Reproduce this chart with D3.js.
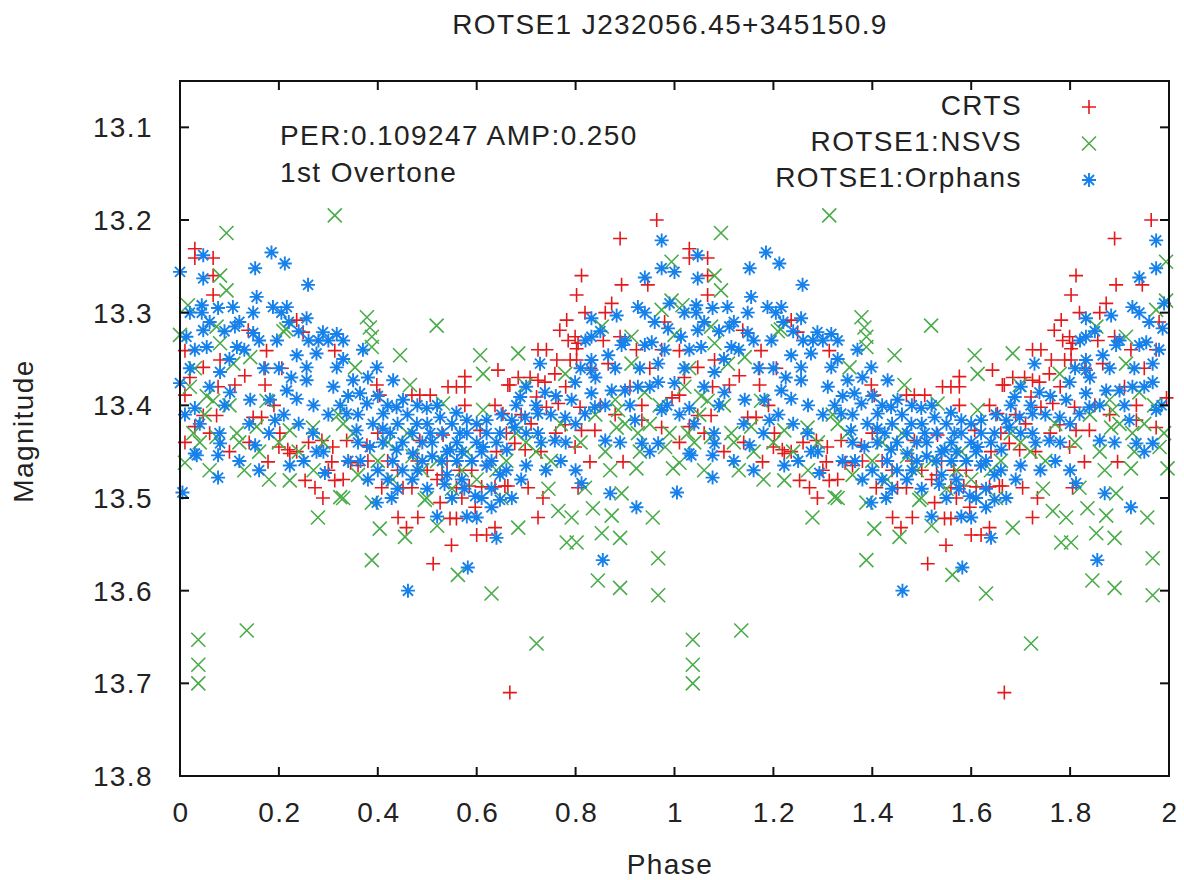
<!DOCTYPE html>
<html>
<head>
<meta charset="utf-8">
<script src="https://cdn.jsdelivr.net/npm/d3@7"></script>
<style>
body{margin:0;background:#fff}
text{font-family:"Liberation Sans",Arial,sans-serif;font-size:28px;fill:#222;letter-spacing:1.4px}
</style>
</head>
<body>
<script>
var title="ROTSE1 J232056.45+345150.9"
var note=["PER:0.109247 AMP:0.250","1st Overtone"]
var names=["CRTS","ROTSE1:NSVS","ROTSE1:Orphans"]
var xTicks=[0,0.2,0.4,0.6,0.8,1,1.2,1.4,1.6,1.8,2]
var yTicks=[13.1,13.2,13.3,13.4,13.5,13.6,13.7,13.8]
// [phase, magnitude] for one cycle, plotted again at phase+1
var crts=[[0.030,13.231],[0.030,13.241],[0.067,13.241],[0.067,13.26],[0.067,13.281],[0.236,13.308],[0.249,13.321],[0.138,13.319],
[0.010,13.341],[0.175,13.341],[0.313,13.341],[0.081,13.351],[0.047,13.359],[0.172,13.36],[0.206,13.36],[0.131,13.368],[0.010,13.389],
[0.077,13.38],[0.111,13.378],[0.172,13.378],[0.047,13.411],[0.074,13.411],[0.148,13.413],[0.165,13.413],[0.030,13.423],[0.010,13.44],
[0.202,13.43],[0.218,13.448],[0.287,13.438],[0.309,13.445],[0.222,13.452],[0.236,13.45],[0.200,13.445],
[0.178,13.461],[0.253,13.481],[0.273,13.489],[0.289,13.50],[0.307,13.461],[0.313,13.481],
[0.643,13.362],[0.663,13.378],[0.576,13.369],[0.542,13.38],[0.559,13.38],[0.576,13.38],[0.398,13.378],[0.404,13.389],[0.469,13.389],
[0.485,13.389],[0.506,13.389],[0.576,13.40],[0.637,13.40],[0.653,13.409],[0.485,13.438],[0.337,13.438],[0.378,13.443],[0.532,13.432],[0.607,13.427],
[0.408,13.489],[0.451,13.489],[0.469,13.489],[0.441,13.521],[0.481,13.521],[0.458,13.532],[0.526,13.505],[0.546,13.522],[0.559,13.522],
[0.549,13.551],[0.512,13.571],[0.667,13.71],[0.559,13.489],[0.597,13.51],[0.637,13.532],[0.60,13.54],[0.62,13.54],[0.585,13.487],
[0.61,13.488],[0.637,13.488],[0.657,13.487],[0.345,13.462],[0.36,13.465],[0.50,13.47],[0.53,13.475],[0.565,13.47],[0.62,13.465],
[0.964,13.20],[0.89,13.22],[0.812,13.26],[0.893,13.27],[0.946,13.27],[0.802,13.281],[0.873,13.29],[0.819,13.30],[0.86,13.30],
[0.782,13.308],[0.768,13.319],[0.799,13.326],[0.785,13.33],[0.805,13.333],[0.856,13.33],[0.89,13.326],[0.724,13.34],[0.741,13.34],
[0.802,13.339],[0.923,13.34],[0.974,13.34],[0.762,13.351],[0.789,13.351],[0.802,13.351],[0.866,13.355],[0.684,13.37],[0.708,13.37],
[0.724,13.373],[0.738,13.375],[0.758,13.366],[0.667,13.378],[0.721,13.391],[0.741,13.402],[0.765,13.398],[0.809,13.402],[0.934,13.40],
[0.995,13.392],[0.779,13.421],[0.812,13.427],[0.839,13.427],[0.934,13.416],[0.974,13.424],[0.677,13.441],[0.698,13.448],[0.799,13.445],
[0.829,13.461],[0.896,13.461],[0.734,13.50],[0.724,13.521],[0.805,13.489],[0.663,13.487],[0.704,13.489],
[0.42,13.46],[0.44,13.47],[0.48,13.46],[0.52,13.48],[0.54,13.46],[0.57,13.50],[0.59,13.47],[0.64,13.45],[0.66,13.43],[0.69,13.41],
[0.71,13.42],[0.73,13.45],[0.76,13.43],[0.78,13.38],[0.83,13.36],[0.85,13.40],[0.88,13.41],[0.91,13.38],[0.95,13.36],[0.98,13.31],
[0.02,13.37],[0.06,13.43],[0.10,13.45],[0.14,13.44],[0.19,13.40],[0.26,13.44],[0.30,13.47],[0.33,13.48],[0.38,13.46],[0.40,13.43]]
var nsvs=[[0.313,13.195],[0.094,13.214],[0.081,13.26],[0.094,13.276],[0.016,13.292],[0.0,13.324],[0.074,13.315],[0.209,13.32],
[0.081,13.333],[0.108,13.355],[0.054,13.39],[0.027,13.43],[0.074,13.434],[0.115,13.43],[0.155,13.423],[0.269,13.424],[0.215,13.318],
[0.02,13.38],[0.067,13.395],[0.142,13.348],[0.175,13.395],[0.12,13.44],[0.04,13.44],[0.222,13.427],
[0.010,13.462],[0.222,13.481],[0.324,13.499],[0.279,13.521],[0.135,13.643],[0.037,13.653],[0.037,13.68],[0.037,13.70],
[0.378,13.305],[0.384,13.316],[0.519,13.314],[0.388,13.326],[0.388,13.337],[0.445,13.346],[0.607,13.346],[0.613,13.366],[0.354,13.359],
[0.465,13.378],[0.532,13.398],[0.613,13.405],
[0.388,13.505],[0.33,13.50],[0.404,13.533],[0.455,13.542],[0.388,13.567],[0.495,13.502],[0.562,13.583],[0.63,13.603],[0.499,13.50],
[0.994,13.245],[0.974,13.297],[0.994,13.287],[0.853,13.315],[0.913,13.326],[0.684,13.344],[0.913,13.355],[0.779,13.366],[0.698,13.378],
[0.94,13.386],[0.88,13.394],[0.886,13.405],[0.883,13.424],[0.926,13.43],[0.981,13.445],
[0.923,13.468],[0.997,13.468],[0.893,13.495],[0.835,13.511],[0.956,13.521],[0.873,13.519],[0.853,13.538],[0.89,13.543],[0.782,13.548],
[0.802,13.548],[0.792,13.521],[0.765,13.514],[0.684,13.532],[0.967,13.565],[0.845,13.589],[0.89,13.597],[0.967,13.605],[0.721,13.657],[0.819,13.489],
[0.42,13.44],[0.47,13.455],[0.52,13.46],[0.58,13.45],[0.64,13.47],[0.36,13.475],[0.33,13.42],[0.27,13.47],[0.18,13.48],[0.13,13.47],
[0.06,13.47],[0.70,13.44],[0.75,13.46],[0.86,13.45],[0.95,13.42],
[0.03,13.36],[0.05,13.41],[0.10,13.40],[0.16,13.45],[0.20,13.44],[0.24,13.45],[0.29,13.44],[0.32,13.41],[0.35,13.43],[0.40,13.46],
[0.43,13.48],[0.46,13.43],[0.49,13.47],[0.55,13.49],[0.57,13.47],[0.60,13.48],[0.66,13.46],[0.68,13.43],[0.72,13.45],[0.77,13.42],
[0.81,13.44],[0.84,13.41],[0.87,13.47],[0.90,13.42],[0.93,13.45],[0.97,13.40],[0.99,13.43],[0.745,13.49],[0.65,13.50],[0.52,13.53]]
var orphans=[[0.047,13.238],[0.047,13.263],[0.0,13.256],[0.152,13.252],[0.185,13.235],[0.212,13.247],[0.259,13.27],[0.155,13.283],
[0.044,13.292],[0.044,13.30],[0.077,13.295],[0.107,13.294],[0.148,13.30],[0.188,13.294],[0.216,13.294],[0.256,13.306],[0.111,13.315],
[0.047,13.319],[0.013,13.326],[0.148,13.322],[0.289,13.321],[0.317,13.323],[0.054,13.337],[0.115,13.337],[0.196,13.33],[0.236,13.346],
[0.276,13.344],[0.256,13.359],[0.256,13.373],[0.081,13.364],[0.0,13.376],[0.317,13.359],[0.216,13.384],[0.101,13.386],[0.142,13.394],
[0.182,13.394],[0.236,13.393],[0.030,13.403],[0.324,13.40],[0.192,13.416],[0.269,13.43],[0.081,13.441],[0.152,13.443],[0.030,13.452],[0.276,13.45],
[0.034,13.454],[0.077,13.454],[0.077,13.478],[0.005,13.494],[0.222,13.465],[0.293,13.473],
[0.330,13.33],[0.37,13.34],[0.398,13.359],[0.35,13.373],[0.431,13.373],[0.364,13.387],[0.378,13.398],[0.438,13.402],[0.451,13.394],
[0.499,13.403],[0.526,13.413],[0.559,13.408],[0.58,13.416],[0.62,13.416],[0.337,13.409],[0.411,13.409],[0.479,13.42],[0.357,13.427],
[0.425,13.43],[0.506,13.43],[0.566,13.43],[0.647,13.43],[0.384,13.445],[0.438,13.448],[0.471,13.452],[0.546,13.448],[0.613,13.445],[0.661,13.448],
[0.398,13.505],[0.428,13.50],[0.582,13.575],[0.461,13.60],[0.60,13.521],[0.64,13.543],[0.597,13.498],[0.647,13.502],
[0.43,13.46],[0.45,13.47],[0.53,13.46],[0.54,13.475],[0.535,13.485],[0.62,13.465],[0.647,13.475],
[0.40,13.47],[0.47,13.48],[0.51,13.455],[0.56,13.46],[0.575,13.49],[0.63,13.49],[0.365,13.46],[0.41,13.425],[0.49,13.44],[0.60,13.44],
[0.974,13.222],[0.974,13.252],[0.94,13.262],[0.926,13.294],[0.94,13.30],[0.883,13.303],[0.832,13.306],[0.987,13.317],[0.832,13.326],
[0.893,13.335],[0.94,13.335],[0.954,13.332],[0.866,13.346],[0.832,13.351],[0.728,13.355],[0.967,13.355],[0.832,13.362],[0.799,13.375],
[0.873,13.384],[0.90,13.384],[0.926,13.38],[0.967,13.375],[0.688,13.391],[0.738,13.386],[0.792,13.394],[0.832,13.387],[0.839,13.402],
[0.671,13.416],[0.698,13.413],[0.724,13.409],[0.779,13.413],[0.819,13.409],[0.92,13.416],[0.974,13.405],[0.677,13.424],[0.724,13.43],
[0.758,13.438],[0.86,13.438],[0.934,13.441],[0.967,13.441],
[0.87,13.495],[0.923,13.51],[0.855,13.567],[0.812,13.484],[0.671,13.50],[0.70,13.465],[0.74,13.47],[0.77,13.46],[0.69,13.48],
[0.02,13.30],[0.03,13.34],[0.06,13.31],[0.09,13.32],[0.02,13.36],[0.06,13.38],[0.09,13.40],[0.04,13.42],[0.08,13.43],[0.10,13.35],
[0.12,13.31],[0.01,13.41],[0.13,13.34],[0.16,13.33],[0.17,13.36],[0.20,13.36],[0.22,13.31],[0.24,13.32],[0.26,13.33],[0.28,13.33],
[0.30,13.33],[0.14,13.42],[0.18,13.43],[0.21,13.41],[0.24,13.42],[0.27,13.40],[0.30,13.41],[0.12,13.46],[0.16,13.47],[0.25,13.46],
[0.29,13.45],[0.31,13.38],[0.205,13.30],[0.225,13.37],[0.33,13.35],[0.34,13.39],[0.36,13.41],[0.38,13.37],[0.39,13.42],[0.40,13.39],
[0.41,13.44],[0.42,13.40],[0.44,13.42],[0.45,13.44],[0.36,13.44],[0.34,13.46],[0.38,13.48],[0.42,13.48],[0.44,13.49],
[0.46,13.41],[0.47,13.43],[0.48,13.40],[0.49,13.46],[0.50,13.42],[0.51,13.44],[0.52,13.40],[0.53,13.43],[0.54,13.45],[0.55,13.42],
[0.56,13.44],[0.57,13.45],[0.58,13.43],[0.59,13.46],[0.60,13.42],[0.61,13.45],[0.62,13.43],[0.63,13.46],[0.64,13.44],[0.65,13.41],
[0.48,13.47],[0.50,13.49],[0.55,13.50],[0.57,13.48],[0.52,13.52],[0.58,13.52],[0.61,13.50],[0.63,13.51],[0.66,13.47],
[0.68,13.40],[0.70,13.38],[0.72,13.40],[0.73,13.44],[0.75,13.41],[0.76,13.39],[0.78,13.44],[0.80,13.42],[0.81,13.36],[0.82,13.33],
[0.84,13.37],[0.85,13.32],[0.86,13.40],[0.88,13.36],[0.90,13.33],[0.91,13.40],[0.93,13.36],[0.95,13.38],[0.96,13.31],[0.98,13.34],
[0.99,13.29],[0.89,13.44],[0.95,13.45],[0.80,13.47],[0.70,13.43],[0.985,13.40]]
var colors=["#e31a1c","#4aab4a","#1681ea"]
var shapes=["plus","cross","star"]

var screen={width:1184,height:880}
var svg=d3.select("body").append("svg")
          .attr("width",screen.width)
          .attr("height",screen.height)
var x=d3.scaleLinear().domain([0,2]).range([180,1169])
var y=d3.scaleLinear().domain([13.05,13.8]).range([81,776])

function symbol(type,r){
  if(type=="plus") return "M"+(-r)+",0H"+r+"M0,"+(-r)+"V"+r
  if(type=="cross") return "M"+(-r)+","+(-r)+"L"+r+","+r+"M"+(-r)+","+r+"L"+r+","+(-r)
  return symbol("plus",r)+symbol("cross",r*0.72)
}
function twoCycles(data){
  return data.concat(data.map(function(d){return [d[0]+1,d[1]]}))
}

// points
var series=[crts,nsvs,orphans]
series.forEach(function(s,i){
  svg.append("g")
     .selectAll("path")
     .data(twoCycles(s))
     .enter()
     .append("path")
     .attr("transform",function(d){return "translate("+x(d[0])+","+y(d[1])+")"})
     .attr("d",symbol(shapes[i],7))
     .attr("stroke",colors[i])
     .attr("stroke-width",i==2?1.9:1.6)
     .attr("fill","none")
})

// frame and ticks
svg.append("rect")
   .attr("x",x(0)).attr("y",y(13.05))
   .attr("width",x(2)-x(0)).attr("height",y(13.8)-y(13.05))
   .attr("fill","none").attr("stroke","#111").attr("stroke-width",2)
var ax=svg.append("g").attr("stroke","#111").attr("stroke-width",2)
ax.selectAll("line.yl").data(yTicks).enter().append("line")
  .attr("x1",x(0)).attr("x2",x(0)+9).attr("y1",function(d){return y(d)}).attr("y2",function(d){return y(d)})
ax.selectAll("line.yr").data(yTicks).enter().append("line")
  .attr("x1",x(2)).attr("x2",x(2)-9).attr("y1",function(d){return y(d)}).attr("y2",function(d){return y(d)})
ax.selectAll("line.xb").data(xTicks).enter().append("line")
  .attr("x1",function(d){return x(d)}).attr("x2",function(d){return x(d)}).attr("y1",y(13.8)).attr("y2",y(13.8)-9)
ax.selectAll("line.xt").data(xTicks).enter().append("line")
  .attr("x1",function(d){return x(d)}).attr("x2",function(d){return x(d)}).attr("y1",y(13.05)).attr("y2",y(13.05)+9)

svg.selectAll("text.yt").data(yTicks).enter().append("text")
   .attr("x",153).attr("y",function(d){return y(d)+10})
   .style("text-anchor","end")
   .text(function(d){return d3.format(".1f")(d)})
svg.selectAll("text.xt").data(xTicks).enter().append("text")
   .attr("x",function(d){return x(d)+1}).attr("y",822)
   .style("text-anchor","middle")
   .text(function(d){return d3.format("")(d)})

// labels
svg.append("text").attr("x",670).attr("y",34).style("text-anchor","middle").text(title)
svg.append("text").attr("x",670).attr("y",874).style("text-anchor","middle").text("Phase")
svg.append("text").attr("transform","translate(33,431) rotate(-90)").style("text-anchor","middle").text("Magnitude")
svg.selectAll("text.note").data(note).enter().append("text")
   .attr("x",280).attr("y",function(d,i){return 145+i*37})
   .text(function(d){return d})

// key
names.forEach(function(n,i){
  svg.append("text").attr("x",1022).attr("y",115+i*36).style("text-anchor","end").text(n)
  svg.append("path")
     .attr("transform","translate(1089,"+(107+i*36.5)+")")
     .attr("d",symbol(shapes[i],7))
     .attr("stroke",colors[i]).attr("stroke-width",i==2?1.9:1.6).attr("fill","none")
})
</script>
</body>
</html>
